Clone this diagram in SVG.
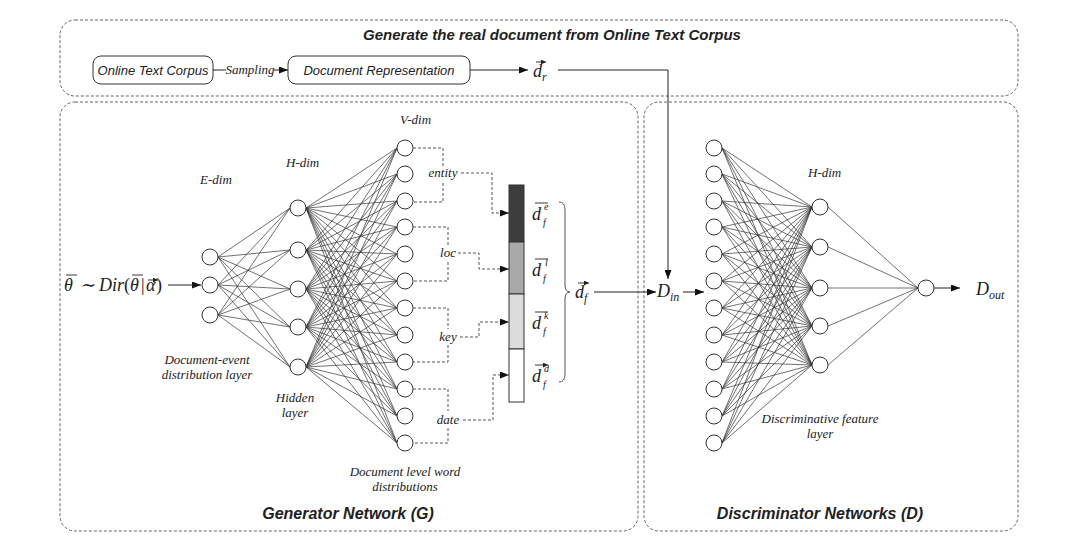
<svg xmlns="http://www.w3.org/2000/svg" width="1080" height="558" viewBox="0 0 1080 558">
<style>
.frame{fill:none;stroke:#666;stroke-width:1;stroke-dasharray:3 2}
.box{fill:#fff;stroke:#333;stroke-width:1}
.n{fill:#fff;stroke:#333;stroke-width:1}
.e{fill:none;stroke:#333;stroke-width:0.7}
.dash{fill:none;stroke:#444;stroke-width:0.9;stroke-dasharray:3 2}
.ln{fill:none;stroke:#222;stroke-width:1}
.acc{fill:none;stroke:#222;stroke-width:0.9}
.title{font-family:"Liberation Sans",Arial,sans-serif;font-style:italic;font-weight:bold;fill:#222}
.sans{font-family:"Liberation Sans",Arial,sans-serif;font-style:italic;font-size:13px;fill:#222}
.lab{font-family:"Liberation Serif","Times New Roman",serif;font-style:italic;font-size:13px;fill:#222}
.math{font-family:"Liberation Serif","DejaVu Serif",serif;font-style:italic;fill:#222}
.up{font-style:normal}
</style>
<defs>
<marker id="ah" markerUnits="userSpaceOnUse" markerWidth="9" markerHeight="7" refX="9" refY="3.5" orient="auto">
<path d="M0,0 L9,3.5 L0,7 z" fill="#111"/>
</marker>
<marker id="va" markerUnits="userSpaceOnUse" markerWidth="5" markerHeight="5" refX="5" refY="2.5" orient="auto">
<path d="M0,0 L5,2.5 L0,5 z" fill="#222"/>
</marker>
</defs>
<rect width="1080" height="558" fill="#fff"/>

<g id="frames">
<rect class="frame" x="60" y="20" width="958" height="76" rx="15"/>
<rect class="frame" x="60" y="102" width="578" height="429" rx="15"/>
<rect class="frame" x="644" y="102" width="374" height="429" rx="15"/>
<text class="title" x="552" y="40" font-size="15" text-anchor="middle">Generate the real document from Online Text Corpus</text>
<text class="title" x="348" y="519" font-size="16" text-anchor="middle">Generator Network (G)</text>
<text class="title" x="820" y="519" font-size="16" text-anchor="middle">Discriminator Networks (D)</text>
</g>

<g id="corpus">
<rect class="box" x="93" y="56" width="120" height="28" rx="8"/>
<text class="sans" x="153" y="74.5" text-anchor="middle">Online Text Corpus</text>
</g>
<g id="docrep">
<rect class="box" x="288" y="56" width="182" height="28" rx="8"/>
<text class="sans" x="379" y="74.5" text-anchor="middle">Document Representation</text>
</g>
<g id="dr">
<text class="math" x="533" y="77" font-size="18">d</text>
<text class="math" x="542" y="81" font-size="12">r</text>
<path class="acc" d="M536 62H546" marker-end="url(#va)"/>
</g>

<g id="connectors">
<path class="ln" d="M213 70H226"/>
<text class="lab" x="250" y="74" text-anchor="middle" font-size="12">Sampling</text>
<path class="ln" d="M274 70H288" marker-end="url(#ah)"/>
<path class="ln" d="M470 70H528" marker-end="url(#ah)"/>
<path class="ln" d="M558 70H668V279" marker-end="url(#ah)"/>
<path class="ln" d="M168 285H201" marker-end="url(#ah)"/>
<path class="ln" d="M594 292H656" marker-end="url(#ah)"/>
<path class="ln" d="M683 292H704" marker-end="url(#ah)"/>
<path class="ln" d="M934 288H960" marker-end="url(#ah)"/>
<!-- E to H -->
<path class="e" d="M218 257L290 208M218 257L290 250M218 257L290 289M218 257L290 327M218 257L290 367M218 285L290 208M218 285L290 250M218 285L290 289M218 285L290 327M218 285L290 367M218 315L290 208M218 315L290 250M218 315L290 289M218 315L290 327M218 315L290 367"/>
<!-- H to V -->
<path class="e" d="M306 208L397 148M306 208L397 174M306 208L397 201M306 208L397 227M306 208L397 254M306 208L397 281M306 208L397 308M306 208L397 335M306 208L397 362M306 208L397 389M306 208L397 416M306 208L397 443"/>
<path class="e" d="M306 250L397 148M306 250L397 174M306 250L397 201M306 250L397 227M306 250L397 254M306 250L397 281M306 250L397 308M306 250L397 335M306 250L397 362M306 250L397 389M306 250L397 416M306 250L397 443"/>
<path class="e" d="M306 289L397 148M306 289L397 174M306 289L397 201M306 289L397 227M306 289L397 254M306 289L397 281M306 289L397 308M306 289L397 335M306 289L397 362M306 289L397 389M306 289L397 416M306 289L397 443"/>
<path class="e" d="M306 327L397 148M306 327L397 174M306 327L397 201M306 327L397 227M306 327L397 254M306 327L397 281M306 327L397 308M306 327L397 335M306 327L397 362M306 327L397 389M306 327L397 416M306 327L397 443"/>
<path class="e" d="M306 367L397 148M306 367L397 174M306 367L397 201M306 367L397 227M306 367L397 254M306 367L397 281M306 367L397 308M306 367L397 335M306 367L397 362M306 367L397 389M306 367L397 416M306 367L397 443"/>
<!-- D input to D hidden -->
<path class="e" d="M722 148L812 207M722 148L812 247M722 148L812 288M722 148L812 326M722 148L812 365M722 174L812 207M722 174L812 247M722 174L812 288M722 174L812 326M722 174L812 365M722 201L812 207M722 201L812 247M722 201L812 288M722 201L812 326M722 201L812 365M722 227L812 207M722 227L812 247M722 227L812 288M722 227L812 326M722 227L812 365"/>
<path class="e" d="M722 254L812 207M722 254L812 247M722 254L812 288M722 254L812 326M722 254L812 365M722 281L812 207M722 281L812 247M722 281L812 288M722 281L812 326M722 281L812 365M722 308L812 207M722 308L812 247M722 308L812 288M722 308L812 326M722 308L812 365M722 335L812 207M722 335L812 247M722 335L812 288M722 335L812 326M722 335L812 365"/>
<path class="e" d="M722 362L812 207M722 362L812 247M722 362L812 288M722 362L812 326M722 362L812 365M722 389L812 207M722 389L812 247M722 389L812 288M722 389L812 326M722 389L812 365M722 416L812 207M722 416L812 247M722 416L812 288M722 416L812 326M722 416L812 365M722 443L812 207M722 443L812 247M722 443L812 288M722 443L812 326M722 443L812 365"/>
<!-- D hidden to out -->
<path class="e" d="M828 207L918 288M828 247L918 288M828 288L918 288M828 326L918 288M828 365L918 288"/>
<!-- brackets -->
<path class="dash" d="M413 148H443V168M443 183V202H413"/>
<path class="dash" d="M461 173H492V213H509" marker-end="url(#ah)"/>
<path class="dash" d="M413 227H448V247M448 262V281H413"/>
<path class="dash" d="M458 253H479V269H509" marker-end="url(#ah)"/>
<path class="dash" d="M413 308H448V329M448 345V362H413"/>
<path class="dash" d="M460 337H479V322H509" marker-end="url(#ah)"/>
<path class="dash" d="M413 389H448V411M448 428V443H413"/>
<path class="dash" d="M463 420H493V375H509" marker-end="url(#ah)"/>
</g>

<g id="bracket-labels">
<text class="lab" x="443" y="177" text-anchor="middle" font-size="12">entity</text>
<text class="lab" x="448" y="257" text-anchor="middle" font-size="12">loc</text>
<text class="lab" x="448" y="341" text-anchor="middle" font-size="12">key</text>
<text class="lab" x="448" y="424" text-anchor="middle" font-size="12">date</text>
</g>

<g id="layer-labels">
<text class="lab" x="200" y="184">E-dim</text>
<text class="lab" x="286" y="167">H-dim</text>
<text class="lab" x="400" y="124">V-dim</text>
<text class="lab" x="808" y="177">H-dim</text>
<text class="lab" x="207" y="364" text-anchor="middle">Document-event</text>
<text class="lab" x="207" y="379" text-anchor="middle">distribution layer</text>
<text class="lab" x="295" y="402" text-anchor="middle">Hidden</text>
<text class="lab" x="295" y="417" text-anchor="middle">layer</text>
<text class="lab" x="405" y="476" text-anchor="middle">Document level word</text>
<text class="lab" x="405" y="491" text-anchor="middle">distributions</text>
<text class="lab" x="820" y="423" text-anchor="middle">Discriminative feature</text>
<text class="lab" x="820" y="438" text-anchor="middle">layer</text>
</g>

<g id="theta">
<text class="math" y="291" font-size="18"><tspan x="64">θ</tspan><tspan class="up" x="81">∼</tspan><tspan x="99">Dir</tspan><tspan class="up" x="124">(</tspan><tspan x="130">θ</tspan><tspan class="up" x="141">|</tspan><tspan x="146">α</tspan><tspan class="up" x="156">)</tspan></text>
<path class="acc" d="M66 275H77M132 275H143M148 280H158" marker-end="url(#va)"/>
</g>

<g id="e-layer">
<g id="e1"><circle class="n" cx="210" cy="257" r="8"/></g>
<g id="e2"><circle class="n" cx="210" cy="285" r="8"/></g>
<g id="e3"><circle class="n" cx="210" cy="315" r="8"/></g>
</g>
<g id="h-layer">
<g id="h1"><circle class="n" cx="298" cy="208" r="8"/></g>
<g id="h2"><circle class="n" cx="298" cy="250" r="8"/></g>
<g id="h3"><circle class="n" cx="298" cy="289" r="8"/></g>
<g id="h4"><circle class="n" cx="298" cy="327" r="8"/></g>
<g id="h5"><circle class="n" cx="298" cy="367" r="8"/></g>
</g>
<g id="v-layer">
<g id="v1"><circle class="n" cx="405" cy="148" r="8"/></g>
<g id="v2"><circle class="n" cx="405" cy="174" r="8"/></g>
<g id="v3"><circle class="n" cx="405" cy="201" r="8"/></g>
<g id="v4"><circle class="n" cx="405" cy="227" r="8"/></g>
<g id="v5"><circle class="n" cx="405" cy="254" r="8"/></g>
<g id="v6"><circle class="n" cx="405" cy="281" r="8"/></g>
<g id="v7"><circle class="n" cx="405" cy="308" r="8"/></g>
<g id="v8"><circle class="n" cx="405" cy="335" r="8"/></g>
<g id="v9"><circle class="n" cx="405" cy="362" r="8"/></g>
<g id="v10"><circle class="n" cx="405" cy="389" r="8"/></g>
<g id="v11"><circle class="n" cx="405" cy="416" r="8"/></g>
<g id="v12"><circle class="n" cx="405" cy="443" r="8"/></g>
</g>

<g id="df-vector">
<rect x="509" y="185" width="15" height="57" fill="#3d3d3d" stroke="#333"/>
<rect x="509" y="242" width="15" height="52" fill="#a9a9a9" stroke="#333"/>
<rect x="509" y="294" width="15" height="55" fill="#dcdcdc" stroke="#333"/>
<rect x="509" y="349" width="15" height="53" fill="#fff" stroke="#333"/>
</g>
<g id="df-parts">
<text class="math" x="532" y="220" font-size="18">d</text><text class="math" x="544" y="210" font-size="10">e</text><text class="math" x="543" y="226" font-size="10">f</text>
<text class="math" x="532" y="276" font-size="18">d</text><text class="math" x="545" y="266" font-size="10">l</text><text class="math" x="543" y="282" font-size="10">f</text>
<text class="math" x="532" y="329" font-size="18">d</text><text class="math" x="544" y="319" font-size="10">k</text><text class="math" x="543" y="335" font-size="10">f</text>
<text class="math" x="532" y="382" font-size="18">d</text><text class="math" x="544" y="372" font-size="10">d</text><text class="math" x="543" y="388" font-size="10">f</text>
<path class="acc" d="M535 203H548M535 259H548M535 312H548M535 365H548" marker-end="url(#va)"/>
<path d="M559 202Q565 202 565 210V285Q565 292 570 292Q565 292 565 299V374Q565 382 559 382" fill="none" stroke="#555" stroke-width="1"/>
</g>
<g id="df">
<text class="math" x="575" y="298" font-size="18">d</text><text class="math" x="584" y="302" font-size="12">f</text>
<path class="acc" d="M578 283H589" marker-end="url(#va)"/>
</g>

<g id="din">
<text class="math" x="657" y="297" font-size="18">D<tspan font-size="12" dy="4">in</tspan></text>
</g>
<g id="d-in-layer">
<g id="di1"><circle class="n" cx="714" cy="148" r="8"/></g>
<g id="di2"><circle class="n" cx="714" cy="174" r="8"/></g>
<g id="di3"><circle class="n" cx="714" cy="201" r="8"/></g>
<g id="di4"><circle class="n" cx="714" cy="227" r="8"/></g>
<g id="di5"><circle class="n" cx="714" cy="254" r="8"/></g>
<g id="di6"><circle class="n" cx="714" cy="281" r="8"/></g>
<g id="di7"><circle class="n" cx="714" cy="308" r="8"/></g>
<g id="di8"><circle class="n" cx="714" cy="335" r="8"/></g>
<g id="di9"><circle class="n" cx="714" cy="362" r="8"/></g>
<g id="di10"><circle class="n" cx="714" cy="389" r="8"/></g>
<g id="di11"><circle class="n" cx="714" cy="416" r="8"/></g>
<g id="di12"><circle class="n" cx="714" cy="443" r="8"/></g>
</g>
<g id="d-hidden-layer">
<g id="dh1"><circle class="n" cx="820" cy="207" r="8"/></g>
<g id="dh2"><circle class="n" cx="820" cy="247" r="8"/></g>
<g id="dh3"><circle class="n" cx="820" cy="288" r="8"/></g>
<g id="dh4"><circle class="n" cx="820" cy="326" r="8"/></g>
<g id="dh5"><circle class="n" cx="820" cy="365" r="8"/></g>
</g>
<g id="d-out-node"><circle class="n" cx="926" cy="288" r="8"/></g>
<g id="dout">
<text class="math" x="976" y="295" font-size="18">D<tspan font-size="12" dy="4">out</tspan></text>
</g>
</svg>
